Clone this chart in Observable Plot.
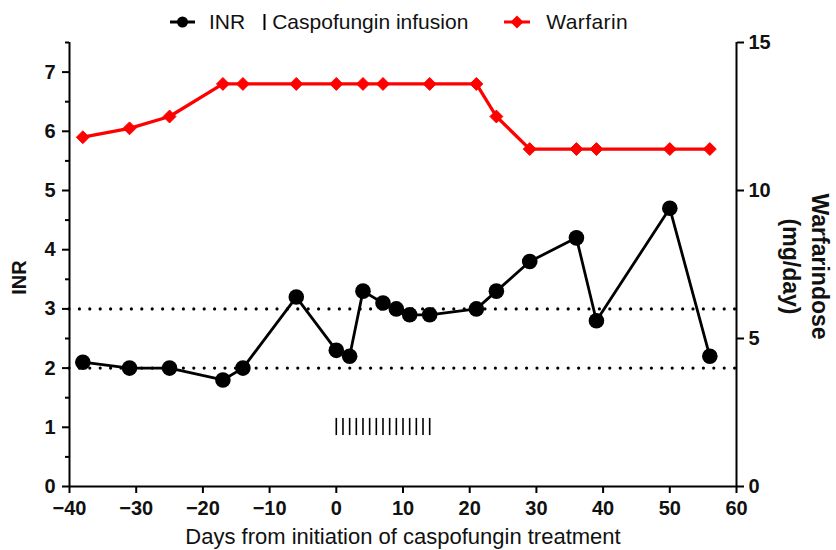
<!DOCTYPE html>
<html><head><meta charset="utf-8">
<script src="https://cdn.jsdelivr.net/npm/d3@7"></script>
<script src="https://cdn.jsdelivr.net/npm/@observablehq/plot@0.6"></script>
<style>
body{margin:0;background:#fff;font-family:"Liberation Sans",Arial,sans-serif;width:836px;}
#legend{height:24px;padding-top:10px;padding-left:170px;display:flex;justify-content:flex-start;align-items:center;font-size:21px;line-height:24px;color:#111;}
#legend .item{display:flex;align-items:center;}
#legend svg{display:block;}
</style></head><body>
<div id="legend"></div>
<div id="chart"></div>
<script>
// ---- data ----
const inrDays = [-38,-31,-25,-17,-14,-6,0,2,4,7,9,11,14,21,24,29,36,39,50,56];
const inrValues = [2.1,2.0,2.0,1.8,2.0,3.2,2.3,2.2,3.3,3.1,3.0,2.9,2.9,3.0,3.3,3.8,4.2,2.8,4.7,2.2];
const warfarinDays = [-38,-31,-25,-17,-14,-6,0,4,7,14,21,24,29,36,39,50,56];
const warfarinDose = [11.8,12.1,12.5,13.6,13.6,13.6,13.6,13.6,13.6,13.6,13.6,12.5,11.4,11.4,11.4,11.4,11.4];
const caspofunginDays = [0,1,2,3,4,5,6,7,8,9,10,11,12,13,14];
const inrTargetRange = [2,3];
const xTicks = [-40,-30,-20,-10,0,10,20,30,40,50,60];
const inrTicks = [0,1,2,3,4,5,6,7];
const inrMinorTicks = [0.5,1.5,2.5,3.5,4.5,5.5,6.5,7.5];
const doseTicks = [0,5,10,15];
const legendLabels = ["INR","Caspofungin infusion","Warfarin"];
const xLabel = "Days from initiation of caspofungin treatment";
const yLabel = "INR";
const y2Label = "Warfarindose\n(mg/day)";

const inr = inrDays.map((d,i)=>({day:d, inr:inrValues[i]}));
const warfarin = warfarinDays.map((d,i)=>({day:d, dose:warfarinDose[i]}));
const doseToInr = v => v/2; // right axis 0–15 maps onto left axis 0–7.5

const FONT = '"Liberation Sans", Arial, sans-serif';
const RED = "#ff0000";

// ---- legend ----
const legend = document.getElementById("legend");
legend.innerHTML = `
<div class="item"><svg width="25" height="14"><line x1="0" y1="7" x2="25" y2="7" stroke="#000" stroke-width="3"/><circle cx="12.5" cy="7" r="5.5" fill="#000"/></svg><span style="margin-left:14px">${legendLabels[0]}</span></div>
<div class="item" style="margin-left:18px"><svg width="3" height="16"><line x1="1.5" y1="0" x2="1.5" y2="16" stroke="#000" stroke-width="2"/></svg><span style="margin-left:6px">${legendLabels[1]}</span></div>
<div class="item" style="margin-left:36px"><svg width="26" height="14"><line x1="0" y1="7" x2="26" y2="7" stroke="${RED}" stroke-width="3"/><path d="M13 0.5 L19.5 7 L13 13.5 L6.5 7 Z" fill="${RED}"/></svg><span style="margin-left:16px;letter-spacing:0.4px">${legendLabels[2]}</span></div>`;

// ---- chart ----
const chart = Plot.plot({
  width: 836,
  height: 516,
  marginLeft: 69,
  marginRight: 100,
  marginTop: 8,
  marginBottom: 64,
  style: {fontFamily: FONT, overflow: "visible", background: "#fff"},
  x: {domain: [-40, 60]},
  y: {domain: [0, 7.5]},
  marks: [
    // target range
    Plot.ruleY(inrTargetRange, {stroke:"#000", strokeWidth:3.2, strokeDasharray:"0,10.4", strokeLinecap:"round"}),
    // caspofungin infusion days
    Plot.ruleX(caspofunginDays, {x: d=>d, y1: 0.86, y2: 1.15, stroke:"#000", strokeWidth:1.6}),
    // warfarin
    Plot.line(warfarin, {x:"day", y: d=>doseToInr(d.dose), stroke:RED, strokeWidth:3.3}),
    Plot.dot(warfarin, {x:"day", y: d=>doseToInr(d.dose), symbol:"diamond2", r:5.8, fill:RED, stroke:RED, strokeWidth:1}),
    // INR
    Plot.line(inr, {x:"day", y:"inr", stroke:"#000", strokeWidth:2.8}),
    Plot.dot(inr, {x:"day", y:"inr", r:7.8, fill:"#000"}),
    // axis lines
    Plot.ruleX([-40], {stroke:"#000", strokeWidth:2}),
    Plot.ruleX([60], {stroke:"#000", strokeWidth:2}),
    Plot.ruleY([0], {stroke:"#000", strokeWidth:2}),
    // axes
    Plot.axisX(xTicks, {anchor:"bottom", tickSize:7, tickPadding:7, strokeWidth:2, fontSize:20, fontWeight:"bold", fill:"#111", label:null}),
    Plot.axisY(inrTicks, {anchor:"left", tickSize:7, tickPadding:7, strokeWidth:2, fontSize:20, fontWeight:"bold", fill:"#111", tickFormat: v => String(v), label:null}),
    Plot.axisY(inrMinorTicks, {anchor:"left", tickSize:4, strokeWidth:2, text:null, label:null}),
    Plot.axisY(doseTicks.map(doseToInr), {anchor:"right", tickSize:7, tickPadding:5, strokeWidth:2, fontSize:20, fontWeight:"bold", fill:"#111", tickFormat: v => String(v*2), label:null}),
    // axis titles
    Plot.text([xLabel], {frameAnchor:"bottom", lineAnchor:"middle", textAnchor:"middle", dy:50, fontSize:22, fill:"#111"}),
    Plot.text([yLabel], {frameAnchor:"left", lineAnchor:"middle", textAnchor:"middle", rotate:-90, dx:-50, dy:13, fontSize:20, fontWeight:"bold", fill:"#111"}),
    Plot.text([y2Label], {frameAnchor:"right", lineAnchor:"middle", textAnchor:"middle", rotate:90, dx:70, dy:2, fontSize:23, fontWeight:"bold", lineHeight:1.25, fill:"#111"})
  ]
});
document.getElementById("chart").appendChild(chart);
</script>
</body></html>
